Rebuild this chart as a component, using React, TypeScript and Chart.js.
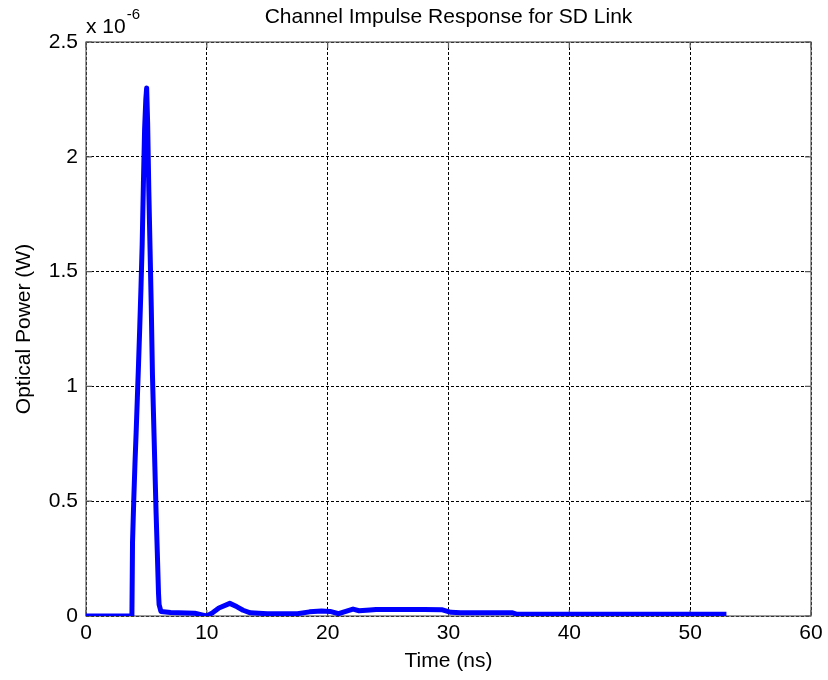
import React, { useEffect, useRef } from "react";
import { Chart, registerables } from "chart.js";

Chart.register(...registerables);

// Time axis (ns)
const timeNs: number[] = [
  0, 3.8, 3.85, 3.95, 4.05, 4.15, 4.25, 4.35, 4.45, 4.55, 4.65, 4.75, 4.85, 4.95, 5.02,
  5.1, 5.2, 5.3, 5.4, 5.5, 5.6, 5.7, 5.8, 5.9, 6.0, 6.05, 6.2, 7, 9, 9.6, 10,
  10.5, 11, 11.9, 12.5, 13, 13.6, 15, 17.5, 18.5, 19.5, 20.2, 20.9, 21.5, 22.1, 22.6,
  23.5, 24, 26, 28, 29.5, 30.2, 31, 35.3, 35.6, 40, 45, 50, 53,
];

// Optical power (x 10^-6 W)
const powerMicroW: number[] = [
  0, 0, 0.32, 0.5, 0.66, 0.8, 0.95, 1.1, 1.26, 1.43, 1.62, 1.88, 2.12, 2.25, 2.3,
  2.15, 1.85, 1.6, 1.35, 1.05, 0.85, 0.65, 0.45, 0.28, 0.1, 0.05, 0.02, 0.015, 0.012, 0.005, 0,
  0.015, 0.035, 0.055, 0.04, 0.025, 0.014, 0.01, 0.01, 0.018, 0.022, 0.02, 0.01, 0.02, 0.03, 0.023,
  0.026, 0.028, 0.028, 0.028, 0.027, 0.016, 0.014, 0.014, 0.008, 0.008, 0.008, 0.008, 0.008,
];

const xTicks: number[] = [0, 10, 20, 30, 40, 50, 60];
const yTicks: number[] = [0, 0.5, 1, 1.5, 2, 2.5];

const chartTitle = "Channel Impulse Response for SD Link";
const xTitle = "Time (ns)";
const yTitle = "Optical Power (W)";
const expBase = "x 10";
const expPower = "-6";

const FONT = "'Liberation Sans', Arial, Helvetica, sans-serif";

const decorPlugin = {
  id: "decor",
  beforeDatasetsDraw(chart: any) {
    const { ctx, chartArea, scales } = chart;
    const { left, right, top, bottom } = chartArea;
    ctx.save();
    ctx.strokeStyle = "#5a5a5a";
    ctx.lineWidth = 1.2;
    ctx.strokeRect(left, top, right - left, bottom - top);
    const tl = 6;
    ctx.beginPath();
    xTicks.forEach((v) => {
      const x = scales.x.getPixelForValue(v);
      ctx.moveTo(x, bottom);
      ctx.lineTo(x, bottom - tl);
      ctx.moveTo(x, top);
      ctx.lineTo(x, top + tl);
    });
    yTicks.forEach((v) => {
      const y = scales.y.getPixelForValue(v);
      ctx.moveTo(left, y);
      ctx.lineTo(left + tl, y);
      ctx.moveTo(right, y);
      ctx.lineTo(right - tl, y);
    });
    ctx.stroke();
    ctx.restore();
  },
  afterDraw(chart: any) {
    const { ctx, chartArea } = chart;
    const { left, right, top, bottom } = chartArea;
    const cx = (left + right) / 2;
    ctx.save();
    ctx.fillStyle = "#000";
    ctx.textAlign = "center";
    ctx.textBaseline = "middle";
    ctx.font = `21px ${FONT}`;
    ctx.fillText(chartTitle, cx, 17);
    ctx.fillText(xTitle, cx, 661);
    ctx.save();
    ctx.translate(24, (top + bottom) / 2);
    ctx.rotate(-Math.PI / 2);
    ctx.fillText(yTitle, 0, 0);
    ctx.restore();
    ctx.textAlign = "left";
    ctx.textBaseline = "alphabetic";
    ctx.font = `21px ${FONT}`;
    ctx.fillText(expBase, left, 33);
    const w = ctx.measureText(expBase).width;
    ctx.font = `15px ${FONT}`;
    ctx.fillText(expPower, left + w + 1, 19);
    ctx.restore();
  },
};

export default function App() {
  const canvasRef = useRef<HTMLCanvasElement | null>(null);

  useEffect(() => {
    if (!canvasRef.current) return;
    const points = timeNs.map((t, i) => ({ x: t, y: powerMicroW[i] }));
    const chart = new Chart(canvasRef.current, {
      type: "line",
      data: {
        datasets: [
          {
            data: points,
            borderColor: "#0000ff",
            borderWidth: 5,
            pointRadius: 0,
            tension: 0,
            fill: false,
            borderJoinStyle: "round",
            borderCapStyle: "butt",
          },
        ],
      },
      options: {
        animation: false,
        responsive: false,
        maintainAspectRatio: false,
        layout: { padding: { left: 0, top: 42, right: 17, bottom: 0 } },
        plugins: {
          legend: { display: false },
          title: { display: false },
          tooltip: { enabled: false },
        },
        scales: {
          x: {
            type: "linear",
            min: 0,
            max: 60,
            afterFit: (s: any) => {
              s.height = 64;
            },
            afterBuildTicks: (s: any) => {
              s.ticks = xTicks.map((v) => ({ value: v }));
            },
            ticks: {
              color: "#000",
              padding: 5,
              maxRotation: 0,
              font: { family: FONT, size: 21 },
              callback: (v: any) => String(v),
            },
            grid: { color: "#000", lineWidth: 1, drawTicks: false },
            border: { display: false, dash: [3, 2] },
          },
          y: {
            type: "linear",
            min: 0,
            max: 2.5,
            afterFit: (s: any) => {
              s.width = 86;
            },
            afterBuildTicks: (s: any) => {
              s.ticks = yTicks.map((v) => ({ value: v }));
            },
            ticks: {
              color: "#000",
              padding: 8,
              font: { family: FONT, size: 21 },
              callback: (v: any) => String(v),
            },
            grid: { color: "#000", lineWidth: 1, drawTicks: false },
            border: { display: false, dash: [3, 2] },
          },
        },
      },
      plugins: [decorPlugin],
    } as any);
    return () => chart.destroy();
  }, []);

  return (
    <div style={{ position: "fixed", left: 0, top: 0, width: 828, height: 680, background: "#fff" }}>
      <canvas ref={canvasRef} width={828} height={680} style={{ width: 828, height: 680, display: "block" }} />
    </div>
  );
}
